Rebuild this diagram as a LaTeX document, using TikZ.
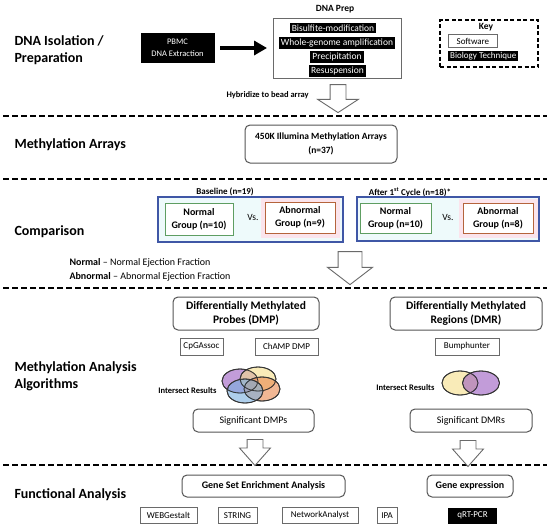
\documentclass[tikz,border=0pt]{standalone}
\usepackage{fontspec}
\setmainfont{Carlito}
\usetikzlibrary{shapes.arrows,arrows.meta}

\definecolor{framegray}{HTML}{6A6A6A}
\definecolor{panelblue}{HTML}{3F57A6}
\definecolor{panelfill}{HTML}{EEFAFB}
\definecolor{normgreen}{HTML}{5E9E62}
\definecolor{abnbrown}{HTML}{B5643C}
\definecolor{abnglow}{HTML}{FBE4EC}
\definecolor{vpurple}{HTML}{9A5BC0}
\definecolor{vyellow}{HTML}{F6DE8A}
\definecolor{vorange}{HTML}{E9884E}
\definecolor{vblue}{HTML}{78AEDF}

\begin{document}
\begin{tikzpicture}[x=1pt, y=-1pt,
  stage/.style={anchor=west, align=left, font=\fontsize{14}{17}\selectfont\bfseries},
  note/.style={font=\fontsize{8.5}{10}\selectfont\bfseries},
  bio/.style={fill=black, text=white, inner xsep=2pt, inner ysep=1.5pt, font=\fontsize{9.5}{11}\selectfont},
  soft/.style={draw=framegray, fill=white, line width=0.8pt, inner sep=0pt, font=\fontsize{9}{11}\selectfont},
  panel/.style={draw=framegray!80!black, fill=white, line width=1pt, rounded corners=5pt, inner sep=0pt, align=center},
  cohort/.style={draw=panelblue, fill=panelfill, line width=1.2pt, inner sep=0pt},
  normbox/.style={draw=normgreen, fill=white, line width=1pt, inner sep=0pt, align=center, font=\fontsize{10}{13}\selectfont\bfseries},
  abnbox/.style={draw=abnbrown, fill=white, line width=1pt, inner sep=0pt, align=center, font=\fontsize{10}{13}\selectfont\bfseries,
    preaction={draw=abnglow, line width=9pt}},
  sepline/.style={line width=2pt, dash pattern=on 6pt off 3pt},
  hollow/.style={single arrow, draw=framegray, fill=white, line width=0.9pt, shape border rotate=270},
  venn/.style={draw=black!80, line width=0.8pt, fill opacity=0.6}]

  \fill[white] (0,0) rectangle (550,528);
  \useasboundingbox (0,0) rectangle (550,528);

  % separators between the stages
  \foreach \y in {116,179,288,465}
    \draw[sepline] (3,\y) -- (547,\y);

  % stage titles
  \node[stage] (tisol) at (11,50) {DNA Isolation /\\Preparation};
  \node[stage] (tarr) at (11,145) {Methylation Arrays};
  \node[stage] (tcomp) at (11,232) {Comparison};
  \node[stage] (talg) at (11,376) {Methylation Analysis\\Algorithms};
  \node[stage] (tfunc) at (11,495) {Functional Analysis};

  % DNA isolation
  \node[fill=black, text=white, minimum width=74pt, minimum height=30pt, inner sep=0pt, align=center,
    font=\fontsize{8.5}{12}\selectfont] (pbmc) at (177.5,48) {PBMC\\DNA Extraction};
  \node[draw=framegray, line width=0.9pt, minimum width=128pt, minimum height=60pt] (prep) at (337,48) {};
  \node[font=\fontsize{9.5}{11}\selectfont\bfseries] (preplbl) at (335,9) {DNA Prep};
  \node[bio] (bisulf) at (333,28) {Bisulfite-modification};
  \node[bio] (wga) at (337,43) {Whole-genome amplification};
  \node[bio] (precip) at (337,57) {Precipitation};
  \node[bio] (resusp) at (337.5,71) {Resuspension};
  \draw[-{Triangle[length=13pt,width=14pt]}, line width=4.5pt, shorten <=5.5pt, shorten >=5.5pt] (pbmc) -- (prep);

  % key
  \node[draw, dash pattern=on 4pt off 2.5pt, line width=1.1pt, minimum width=98pt, minimum height=47pt] (key) at (489,43.5) {};
  \node[font=\fontsize{9.5}{11}\selectfont\bfseries] (keylbl) at (486,27) {Key};
  \node[soft, minimum width=49pt, minimum height=13pt, anchor=west] (keysoft) at (448,41) {Software};
  \node[bio, font=\fontsize{9}{11}\selectfont, anchor=west] (keybio) at (448,56) {Biology Technique};

  \node[note, anchor=west] (hybr) at (223,95) {Hybridize to bead array};
  \node[hollow, minimum height=28pt, minimum width=40pt, inner sep=7.5pt,
    single arrow head extend=12.5pt, single arrow tip angle=114] (arr1) at (338,96) {};

  % methylation arrays
  \node[panel, minimum width=152pt, minimum height=38pt, font=\fontsize{9.5}{14}\selectfont\bfseries] (arrays) at (321,144)
    {450K Illumina Methylation Arrays\\(n=37)};

  % comparison
  \node[note, font=\fontsize{9}{11}\selectfont\bfseries] (baselbl) at (225,192) {Baseline (n=19)};
  \node[note, font=\fontsize{9}{11}\selectfont\bfseries] (afterlbl) at (410,192) {After 1\textsuperscript{st} Cycle (n=18)*};
  \node[cohort, minimum width=185pt, minimum height=45pt] (base) at (250.5,219.5) {};
  \node[normbox, minimum width=68pt, minimum height=32pt] (basenorm) at (199,219) {Normal\\Group (n=10)};
  \node[font=\fontsize{9.5}{11}\selectfont] (basevs) at (253,217) {Vs.};
  \node[abnbox, minimum width=70pt, minimum height=31pt] (baseabn) at (300,217.5) {Abnormal\\Group (n=9)};
  \node[cohort, minimum width=182pt, minimum height=44pt] (after) at (448,219) {};
  \node[normbox, minimum width=71pt, minimum height=30pt] (afternorm) at (395.5,218) {Normal\\Group (n=10)};
  \node[font=\fontsize{9.5}{11}\selectfont] (aftervs) at (448,217) {Vs.};
  \node[abnbox, minimum width=70pt, minimum height=30pt] (afterabn) at (498,218) {Abnormal\\Group (n=8)};
  \node[anchor=west, align=left, font=\fontsize{10}{14}\selectfont] (legend) at (66,270)
    {\textbf{Normal} – Normal Ejection Fraction\\\textbf{Abnormal} – Abnormal Ejection Fraction};
  \node[hollow, minimum height=33pt, minimum width=44pt, inner sep=11.5pt,
    single arrow head extend=10.5pt, single arrow tip angle=105] (arr2) at (350,263.5) {};

  % analysis algorithms
  \node[panel, minimum width=146pt, minimum height=33pt, font=\fontsize{11.5}{14}\selectfont\bfseries] (dmp) at (246,313.5)
    {Differentially Methylated\\Probes (DMP)};
  \node[panel, minimum width=152pt, minimum height=33pt, font=\fontsize{11.5}{14}\selectfont\bfseries] (dmr) at (466,313.5)
    {Differentially Methylated\\Regions (DMR)};
  \node[soft, minimum width=43pt, minimum height=17pt] (cpg) at (201.5,346.5) {CpGAssoc};
  \node[soft, minimum width=63pt, minimum height=17pt] (champ) at (286.5,346.5) {ChAMP DMP};
  \node[soft, minimum width=64pt, minimum height=17pt] (bump) at (467,346.5) {Bumphunter};

  \fill[vpurple, venn] (240,381) ellipse [x radius=18, y radius=12];
  \fill[vyellow, venn] (258,379) ellipse [x radius=18, y radius=12];
  \fill[vorange, venn] (262,389) ellipse [x radius=18, y radius=12];
  \fill[vblue, venn] (245,391) ellipse [x radius=18, y radius=12];
  \foreach \c in {(240,381),(258,379),(262,389),(245,391)}
    \draw[black!80, line width=0.8pt] \c ellipse [x radius=18, y radius=12];
  \node[note, anchor=east] (isectl) at (220,391) {Intersect Results};

  \fill[vyellow, venn] (460,383) ellipse [x radius=18, y radius=12];
  \fill[vpurple, venn] (481,383) ellipse [x radius=18.5, y radius=12];
  \draw[black!80, line width=0.8pt] (460,383) ellipse [x radius=18, y radius=12];
  \draw[black!80, line width=0.8pt] (481,383) ellipse [x radius=18.5, y radius=12];
  \node[note, anchor=east] (isectr) at (438,388) {Intersect Results};

  \node[panel, minimum width=121pt, minimum height=23pt, font=\fontsize{10}{12}\selectfont] (sigdmp) at (253.5,420.5) {Significant DMPs};
  \node[panel, minimum width=122pt, minimum height=23pt, font=\fontsize{10}{12}\selectfont] (sigdmr) at (471,420.5) {Significant DMRs};
  \node[hollow, minimum height=26pt, minimum width=30pt, inner sep=7.5pt,
    single arrow head extend=7.5pt, single arrow tip angle=83] (arr3) at (255,448) {};
  \node[hollow, minimum height=26pt, minimum width=30pt, inner sep=7.5pt,
    single arrow head extend=7.5pt, single arrow tip angle=83] (arr4) at (468,449) {};

  % functional analysis
  \node[panel, minimum width=163pt, minimum height=22pt, font=\fontsize{10}{12}\selectfont\bfseries] (gsea) at (263.5,486) {Gene Set Enrichment Analysis};
  \node[panel, minimum width=86pt, minimum height=22pt, font=\fontsize{10}{12}\selectfont\bfseries] (gexp) at (470,486) {Gene expression};
  \node[soft, minimum width=57pt, minimum height=16pt] (webg) at (168.5,515.5) {WEBGestalt};
  \node[soft, minimum width=39pt, minimum height=16pt] (strg) at (237.5,515.5) {STRING};
  \node[soft, minimum width=76pt, minimum height=16pt] (netan) at (320,515.5) {NetworkAnalyst};
  \node[soft, minimum width=20pt, minimum height=16pt] (ipa) at (387,515.5) {IPA};
  \node[bio, font=\fontsize{9}{11}\selectfont, minimum width=49pt, minimum height=16pt, inner sep=0pt] (qpcr) at (472.5,515.5) {qRT-PCR};
\end{tikzpicture}
\end{document}
